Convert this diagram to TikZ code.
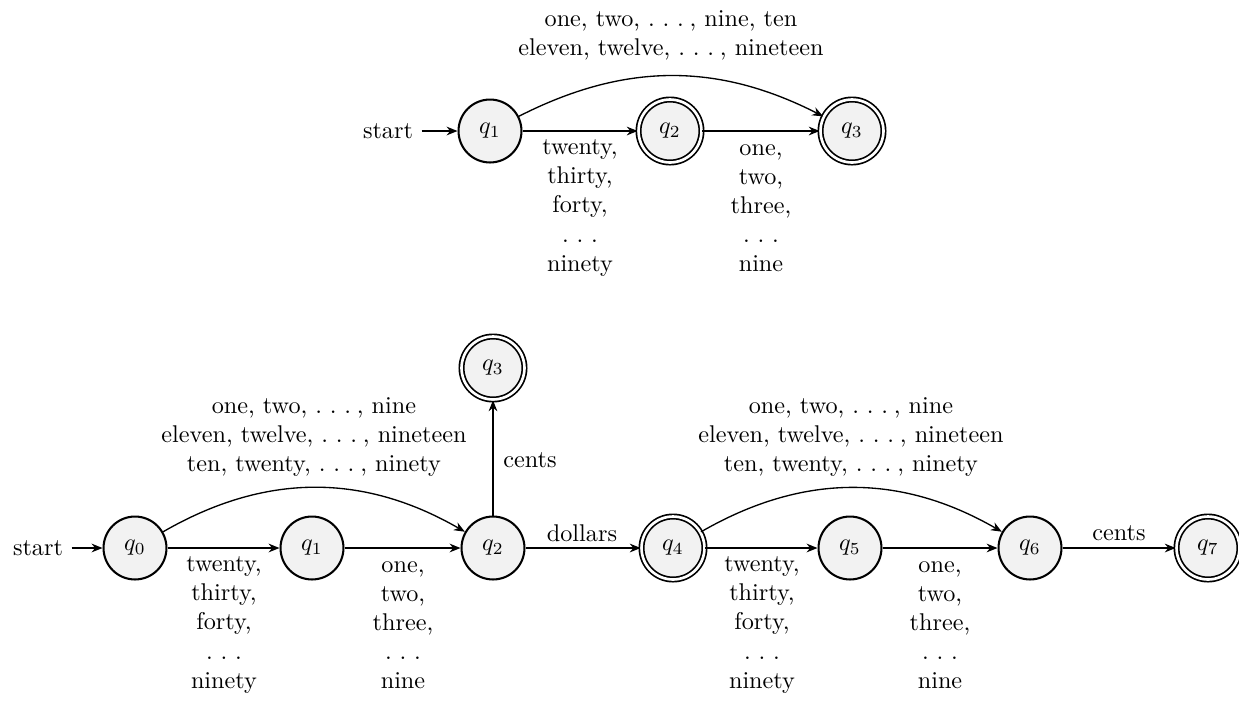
\documentclass[tikz,border=0pt]{standalone}
\usetikzlibrary{automata,arrows.meta,positioning}
\newcommand\mydots{.\kern3.2pt.\kern3.2pt.\kern2.4pt}
\newcommand\mydotsb{.\kern3.2pt.\kern3.2pt.}
\begin{document}
\begin{tikzpicture}[x=0.413pt,y=-0.413pt,
  every state/.style={draw,line width=0.85pt,fill=gray!10,minimum size=26pt,inner sep=0pt},
  accepting/.style={double,double distance=1.1pt,line width=0.7pt},
  edge/.style={-{Stealth[length=4.5pt,width=3.6pt]},line width=0.55pt},
  lbl/.style={align=center,inner sep=0pt}]
\useasboundingbox (0,0) rectangle (1239,701);
% top automaton
\node (tstart) at (388,131) {start};
\node[state] (tq1) at (490,131) {$q_1$};
\node[state,accepting] (tq2) at (670,131) {$q_2$};
\node[state,accepting] (tq3) at (852,131) {$q_3$};
\draw[edge] (tstart) -- (tq1);
\draw[edge] (tq1) -- (tq2);
\draw[edge] (tq2) -- (tq3);
\draw[edge] (tq1) to[bend left=27] (tq3);
\node[lbl] (tl1) at (671,35) {one, two, \mydots, nine, ten\\eleven, twelve, \mydots, nineteen};
\node[lbl] (tl2) at (580,208) {twenty,\\thirty,\\forty,\\\mydotsb\\ninety};
\node[lbl] (tl3) at (761,208) {one,\\two,\\three,\\\mydotsb\\nine};
% bottom automaton
\node (bstart) at (38,548) {start};
\node[state] (q0) at (135,548) {$q_0$};
\node[state] (q1) at (312,548) {$q_1$};
\node[state] (q2) at (493,548) {$q_2$};
\node[state,accepting] (q3) at (493,368) {$q_3$};
\node[state,accepting] (q4) at (673,548) {$q_4$};
\node[state] (q5) at (850,548) {$q_5$};
\node[state] (q6) at (1030,548) {$q_6$};
\node[state,accepting] (q7) at (1208,548) {$q_7$};
\draw[edge] (bstart) -- (q0);
\draw[edge] (q0) -- (q1);
\draw[edge] (q1) -- (q2);
\draw[edge] (q2) -- (q3);
\draw[edge] (q2) -- (q4);
\draw[edge] (q4) -- (q5);
\draw[edge] (q5) -- (q6);
\draw[edge] (q6) -- (q7);
\draw[edge] (q0) to[bend left=30] (q2);
\draw[edge] (q4) to[bend left=30] (q6);
\node[lbl] (bl1) at (314,437) {one, two, \mydots, nine\\eleven, twelve, \mydots, nineteen\\ten, twenty, \mydots, ninety};
\node[lbl] (bl2) at (224,625) {twenty,\\thirty,\\forty,\\\mydotsb\\ninety};
\node[lbl] (bl3) at (403,625) {one,\\two,\\three,\\\mydotsb\\nine};
\node[lbl] (bl4) at (530,460) {cents};
\node[lbl] (bl5) at (582,533) {dollars};
\node[lbl] (bl6) at (851,437) {one, two, \mydots, nine\\eleven, twelve, \mydots, nineteen\\ten, twenty, \mydots, ninety};
\node[lbl] (bl7) at (762,625) {twenty,\\thirty,\\forty,\\\mydotsb\\ninety};
\node[lbl] (bl8) at (940,625) {one,\\two,\\three,\\\mydotsb\\nine};
\node[lbl] (bl9) at (1119,533) {cents};
\end{tikzpicture}
\end{document}
